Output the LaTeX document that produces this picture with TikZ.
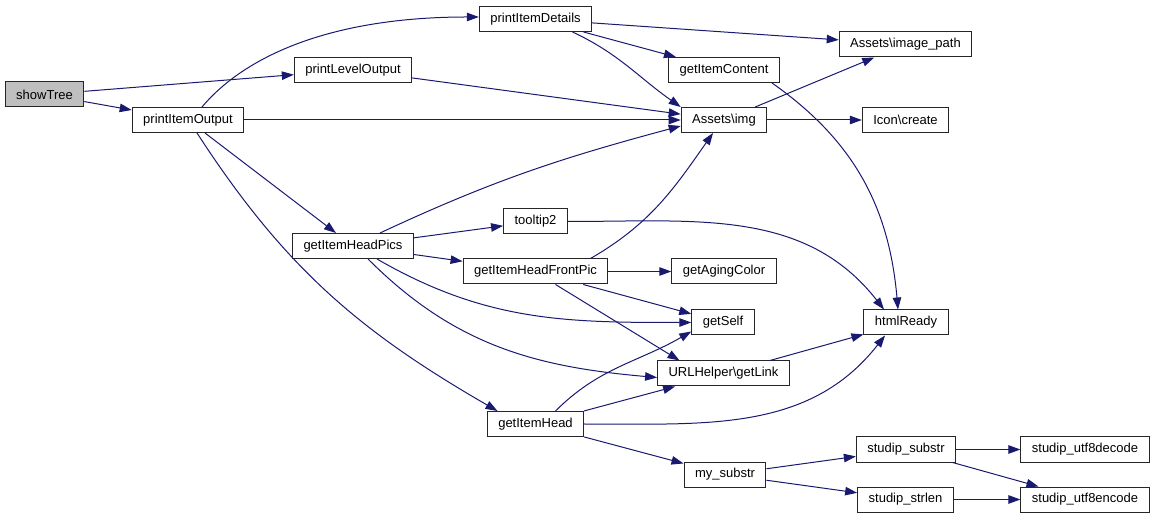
\documentclass[tikz,border=0pt]{standalone}
\usepackage{fontspec}
\setmainfont{Liberation Sans}
\usepackage{xcolor}
\usetikzlibrary{arrows.meta}
\definecolor{midnight}{HTML}{191970}
\definecolor{rootgray}{HTML}{BFBFBF}

\begin{document}
\begin{tikzpicture}[x=1pt,y=1pt]
\tikzset{Func/.style={draw=black!85, line width=1pt, fill=white, minimum height=25pt,
  inner xsep=11pt, inner ysep=0pt, font=\fontsize{13}{15}\selectfont}}
\tikzset{Call/.style={draw=midnight, line width=1pt, -{Triangle[length=12pt,width=8.5pt]}}}
\useasboundingbox (0,0) rectangle (1155,519);
\node[Func, fill=rootgray] (showTree) at (44.5,424.5) {showTree};
\node[Func] (printItemOutput) at (188,399) {printItemOutput};
\node[Func] (printLevelOutput) at (353,449) {printLevelOutput};
\node[Func] (printItemDetails) at (535.5,500) {printItemDetails};
\node[Func] (getItemHeadPics) at (353,273) {getItemHeadPics};
\node[Func] (tooltip2) at (535.5,297.5) {tooltip2};
\node[Func] (getItemHeadFrontPic) at (535.5,247.5) {getItemHeadFrontPic};
\node[Func] (getItemHead) at (535.5,95) {getItemHead};
\node[Func] (getItemContent) at (724,449) {getItemContent};
\node[Func] (assetsImg) at (724,399) {Assets\textbackslash img};
\node[Func] (getAgingColor) at (724,247.5) {getAgingColor};
\node[Func] (getSelf) at (723,196.5) {getSelf};
\node[Func] (urlGetLink) at (723.5,145.5) {URLHelper\textbackslash getLink};
\node[Func] (mySubstr) at (725,44.5) {my\_substr};
\node[Func] (assetsImagePath) at (905.5,474.5) {Assets\textbackslash image\_path};
\node[Func] (iconCreate) at (905.5,399) {Icon\textbackslash create};
\node[Func] (htmlReady) at (906,196.5) {htmlReady};
\node[Func] (studipSubstr) at (906,69.5) {studip\_substr};
\node[Func] (studipStrlen) at (905.5,19.5) {studip\_strlen};
\node[Func] (utfDecode) at (1085,69.5) {studip\_utf8decode};
\node[Func] (utfEncode) at (1085,19.5) {studip\_utf8encode};
\draw[Call] (showTree) -- (printLevelOutput);
\draw[Call] (showTree) -- (printItemOutput);
\draw[Call] ([xshift=14pt]printItemOutput.north) to[out=50,in=180,out distance=65pt,in distance=150pt] ([yshift=2pt]printItemDetails.west);
\draw[Call] (printItemOutput) -- (assetsImg);
\draw[Call] (printItemOutput) -- (getItemHeadPics);
\draw[Call] ([xshift=9pt]printItemOutput.south) to[out=-57,in=150] ([xshift=-38pt]getItemHead.north);
\draw[Call] (printLevelOutput) -- (assetsImg);
\draw[Call] (printItemDetails) -- (assetsImagePath);
\draw[Call] (printItemDetails) -- (getItemContent);
\draw[Call] ([xshift=37pt]printItemDetails.south) to[out=-25,in=145] (assetsImg.north west);
\draw[Call] ([xshift=48pt]getItemContent.south) to[out=-35,in=95] ([xshift=-8pt]htmlReady.north);
\draw[Call] (assetsImg) -- (assetsImagePath);
\draw[Call] (assetsImg) -- (iconCreate);
\draw[Call] ([xshift=27pt]getItemHeadPics.north) to[out=25,in=-165] ([yshift=-6pt]assetsImg.west);
\draw[Call] (getItemHeadPics) -- (tooltip2);
\draw[Call] (getItemHeadPics) -- (getItemHeadFrontPic);
\draw[Call] ([xshift=24pt]getItemHeadPics.south) to[out=-30,in=180] (getSelf.west);
\draw[Call] ([xshift=15pt]getItemHeadPics.south) to[out=-45,in=175] ([yshift=-4pt]urlGetLink.west);
\draw[Call] (tooltip2) to[out=0,in=128] ([xshift=-22pt]htmlReady.north);
\draw[Call] ([xshift=55pt]getItemHeadFrontPic.north) to[out=30,in=-125] ([xshift=-11pt]assetsImg.south);
\draw[Call] (getItemHeadFrontPic) -- (getAgingColor);
\draw[Call] (getItemHeadFrontPic) -- (getSelf);
\draw[Call] ([xshift=20pt]getItemHeadFrontPic.south) -- ([xshift=-44pt]urlGetLink.north);
\draw[Call] ([xshift=20pt]getItemHead.north) to[out=45,in=-150] ([yshift=-9pt]getSelf.west);
\draw[Call] (getItemHead) -- (urlGetLink);
\draw[Call] (getItemHead) to[out=0,in=-128] ([xshift=-21pt]htmlReady.south);
\draw[Call] (getItemHead) -- (mySubstr);
\draw[Call] (urlGetLink) -- (htmlReady);
\draw[Call] (mySubstr) -- (studipSubstr);
\draw[Call] (mySubstr) -- (studipStrlen);
\draw[Call] (studipSubstr) -- (utfDecode);
\draw[Call] (studipSubstr) -- (utfEncode);
\draw[Call] (studipStrlen) -- (utfEncode);
\end{tikzpicture}
\end{document}
